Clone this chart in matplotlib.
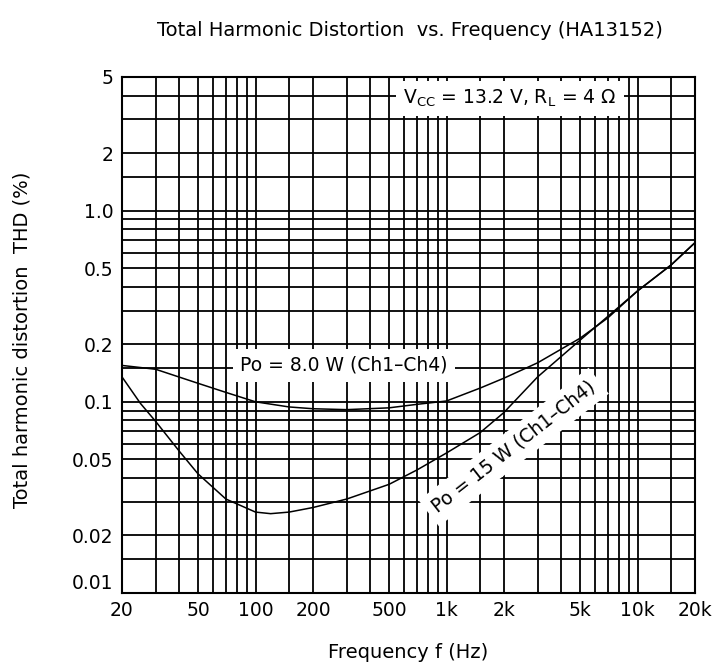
import numpy as np
import matplotlib
matplotlib.use('Agg')
import matplotlib.pyplot as plt

plt.rcParams['font.family'] = ['DejaVu Sans']
plt.rcParams['mathtext.fontset'] = 'dejavusans'

# Po = 8.0 W (Ch1-Ch4)
freq_8w = [20, 30, 50, 70, 100, 150, 200, 300, 500, 700, 1000, 1500, 2000,
           3000, 5000, 7000, 10000, 15000, 20000]
thd_8w = [0.155, 0.148, 0.125, 0.112, 0.100, 0.094, 0.092, 0.091, 0.093, 0.097,
          0.101, 0.118, 0.133, 0.16, 0.215, 0.275, 0.38, 0.52, 0.68]

# Po = 15 W (Ch1-Ch4)
freq_15w = [20, 25, 30, 40, 50, 70, 100, 120, 150, 200, 300, 500, 700, 1000,
            1500, 2000, 3000, 5000, 7000, 10000, 15000, 20000]
thd_15w = [0.135, 0.098, 0.079, 0.055, 0.042, 0.031, 0.0265, 0.026, 0.0265,
           0.028, 0.031, 0.037, 0.044, 0.054, 0.069, 0.088, 0.135, 0.21, 0.28,
           0.38, 0.52, 0.68]

x_ticks = [20, 50, 100, 200, 500, 1000, 2000, 5000, 10000, 20000]
x_labels = ['20', '50', '100', '200', '500', '1k', '2k', '5k', '10k', '20k']
x_minor = [30, 40, 60, 70, 80, 90, 150, 300, 400, 600, 700, 800, 900, 1500,
           3000, 4000, 6000, 7000, 8000, 9000, 15000]
y_ticks = [0.01, 0.02, 0.05, 0.1, 0.2, 0.5, 1.0, 2, 5]
y_labels = ['0.01', '0.02', '0.05', '0.1', '0.2', '0.5', '1.0', '2', '5']
y_minor = [0.015, 0.03, 0.04, 0.06, 0.07, 0.08, 0.09, 0.15, 0.3, 0.4, 0.6,
           0.7, 0.8, 0.9, 1.5, 3, 4]

fig = plt.figure(figsize=(7.16, 6.68), dpi=100)
ax = fig.add_axes([122 / 716, 1 - 593 / 668, 573 / 716, 516 / 668])
ax.set_xscale('log')
ax.set_yscale('log')
ax.set_xlim(20, 20000)
ax.set_ylim(0.01, 5)

ax.set_xticks(x_ticks)
ax.set_xticklabels(x_labels)
ax.set_xticks(x_minor, minor=True)
ax.set_yticks(y_ticks)
ax.set_yticklabels(y_labels)
ax.set_yticks(y_minor, minor=True)
ax.xaxis.set_minor_formatter(matplotlib.ticker.NullFormatter())
ax.yaxis.set_minor_formatter(matplotlib.ticker.NullFormatter())
ax.tick_params(which='both', length=0, labelsize=13.5, pad=6)
ax.grid(which='both', color='black', linewidth=1.3)
ax.set_axisbelow(True)
for s in ax.spines.values():
    s.set_linewidth(1.5)

# 0.01 label sits a bit higher in the original
ax.get_yticklabels()[0].set_verticalalignment('bottom')

ax.plot(freq_8w, thd_8w, color='black', lw=1.1, zorder=3)
ax.plot(freq_15w, thd_15w, color='black', lw=1.1, zorder=3)

box = dict(facecolor='white', edgecolor='none', pad=5)
ax.text(2150, 3.85, r'V$_\mathrm{CC}$ = 13.2 V, R$_\mathrm{L}$ = 4 Ω', fontsize=13.5,
        ha='center', va='center', bbox=box, zorder=4)
ax.text(290, 0.155, 'Po = 8.0 W (Ch1–Ch4)', fontsize=13.5,
        ha='center', va='center', bbox=box, zorder=4)
ax.text(2250, 0.058, 'Po = 15 W (Ch1–Ch4)', fontsize=13.5, rotation=38,
        rotation_mode='anchor', ha='center', va='center', bbox=box, zorder=4)

fig.text(410 / 716, 1 - 30 / 668, 'Total Harmonic Distortion  vs. Frequency (HA13152)',
         ha='center', va='center', fontsize=14)
fig.text(408 / 716, 1 - 652 / 668, 'Frequency f (Hz)', ha='center', va='center',
         fontsize=14)
fig.text(22 / 716, 1 - 340 / 668, 'Total harmonic distortion  THD (%)', ha='center',
         va='center', rotation=90, fontsize=14)

fig.savefig('out.png', dpi=100)
